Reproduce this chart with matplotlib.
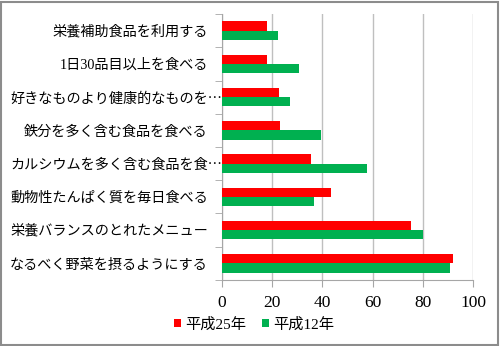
import matplotlib.pyplot as plt
import numpy as np
from matplotlib.patches import Rectangle
from matplotlib.transforms import ScaledTranslation

plt.rcParams["font.family"] = ["Liberation Serif", "Noto Sans CJK JP"]

# items listed from bottom to top
items = [
    "なるべく野菜を摂るようにする",
    "栄養バランスのとれたメニュー",
    "動物性たんぱく質を毎日食べる",
    "カルシウムを多く含む食品を食…",
    "鉄分を多く含む食品を食べる",
    "好きなものより健康的なものを…",
    "1日30品目以上を食べる",
    "栄養補助食品を利用する",
]
h25 = [91.9, 75.2, 43.3, 35.5, 23.2, 22.6, 18.1, 17.9]
h12 = [90.6, 79.9, 36.6, 57.9, 39.5, 27.3, 30.6, 22.2]

COLORS = {"h25": "#FF0000", "h12": "#00B050", "grid": "#BFBFBF", "axis": "#A6A6A6"}

fig = plt.figure(figsize=(5.0, 3.46), dpi=100)
ax = fig.add_axes([0.4434, 0.1908, 0.5032, 0.7687])

y = np.arange(len(items))
bh = 0.28
ax.barh(y + bh / 2, h25, height=bh, color=COLORS["h25"], label="平成25年", zorder=3)
ax.barh(y - bh / 2, h12, height=bh, color=COLORS["h12"], label="平成12年", zorder=3)

ax.set_xlim(0, 100)
ax.set_ylim(-0.5, len(items) - 0.5)
ax.set_xticks(np.arange(0, 101, 20))
ax.set_xticklabels([str(v) for v in range(0, 101, 20)], fontsize=12.5)

ax.set_yticks(y)
ax.set_yticklabels(items, fontsize=10.2)
ax.set_yticks(np.arange(-0.5, len(items), 1.0), minor=True)
ax.tick_params(axis="y", which="major", length=0, pad=10)
ax.tick_params(axis="y", which="minor", length=5, color=COLORS["axis"])
ax.tick_params(axis="x", length=5, color=COLORS["axis"], pad=6)

# truncated labels keep their text aligned with the others, the ellipsis runs past
for lbl in ax.get_yticklabels():
    if lbl.get_text().endswith("…"):
        lbl.set_fontfamily(["Noto Sans CJK JP"])
        lbl.set_transform(lbl.get_transform() + ScaledTranslation(0.14, 0, fig.dpi_scale_trans))

ax.grid(axis="x", color=COLORS["grid"], linewidth=1, zorder=0)
for side in ("top", "right"):
    ax.spines[side].set_visible(False)
for side in ("left", "bottom"):
    ax.spines[side].set_color(COLORS["axis"])

leg = fig.legend(loc="center", bbox_to_anchor=(0.508, 0.062), ncol=2, frameon=False,
                 fontsize=11, handlelength=0.45, handleheight=0.45, handletextpad=0.3,
                 columnspacing=1.0)

fig.patches.append(Rectangle((0.002, 0.004), 0.994, 0.99, transform=fig.transFigure,
                             fill=False, edgecolor="#8C8C8C", linewidth=1.5))

fig.savefig("out.png", dpi=100)
